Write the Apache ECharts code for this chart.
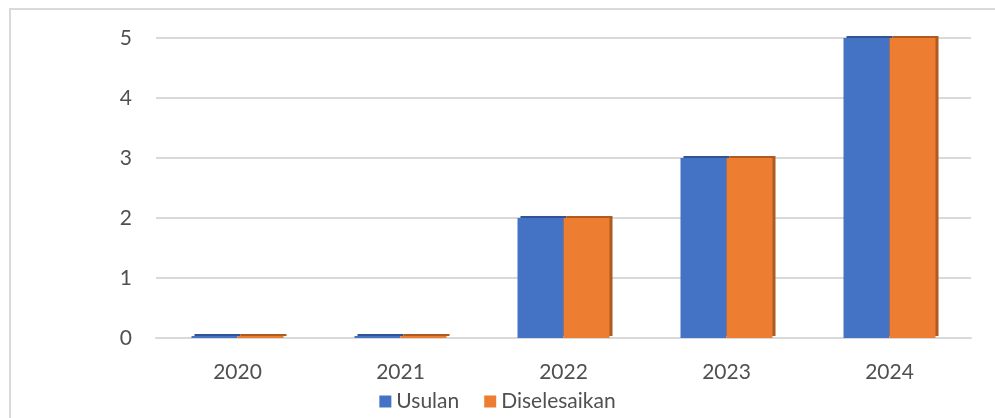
<!DOCTYPE html>
<html>
<head>
<meta charset="utf-8">
<script src="https://cdn.jsdelivr.net/npm/echarts@6/dist/echarts.min.js"></script>
<style>
html, body { margin: 0; padding: 0; background: #fff; }
#main { width: 995px; height: 418px; }
</style>
</head>
<body>
<div id="main"></div>
<script>
var years = ['2020', '2021', '2022', '2023', '2024'];
var usulan = [0, 0, 2, 3, 5];
var diselesaikan = [0, 0, 2, 3, 5];

var chart = echarts.init(document.getElementById('main'));
var font = 'Lato, "Open Sans", sans-serif';

var option = {
	animation: false,
	textStyle: { fontFamily: font },
	graphic: [{
		type: 'rect',
		shape: { x: 10, y: 9, width: 1000, height: 420 },
		style: { fill: 'none', stroke: '#d9d9d9', lineWidth: 2 },
		silent: true
	}],
	grid: { left: 156, right: 24, top: 38, bottom: 80 },
	legend: {
		bottom: 1,
		left: 'center',
		itemWidth: 12,
		itemHeight: 12,
		itemGap: 25,
		icon: 'rect',
		textStyle: { fontFamily: font, fontSize: 21, color: '#505050', padding: [0, 0, 0, 0] },
		data: ['Usulan', 'Diselesaikan']
	},
	xAxis: {
		type: 'category',
		data: years,
		axisLine: { lineStyle: { color: '#d9d9d9', width: 2 } },
		axisTick: { show: false },
		axisLabel: { fontSize: 21, color: '#505050', margin: 24, fontFamily: font }
	},
	yAxis: {
		type: 'value',
		min: 0,
		max: 5,
		interval: 1,
		axisLine: { show: false },
		axisTick: { show: false },
		axisLabel: { fontSize: 21, color: '#505050', margin: 24, fontFamily: font },
		splitLine: { lineStyle: { color: '#d9d9d9', width: 2 } }
	},
	series: [{
		name: 'Usulan',
		type: 'bar',
		data: usulan,
		barWidth: 46,
		barGap: '0%',
		barMinHeight: 2,
		itemStyle: {
			color: '#4472c4',
			shadowColor: '#2f5597',
			shadowOffsetX: 3,
			shadowOffsetY: -2,
			shadowBlur: 0
		}
	}, {
		name: 'Diselesaikan',
		type: 'bar',
		data: diselesaikan,
		barWidth: 46,
		barGap: '0%',
		barMinHeight: 2,
		itemStyle: {
			color: '#ed7d31',
			shadowColor: '#ae5a21',
			shadowOffsetX: 3,
			shadowOffsetY: -2,
			shadowBlur: 0
		}
	}]
};

chart.setOption(option);
</script>
</body>
</html>
